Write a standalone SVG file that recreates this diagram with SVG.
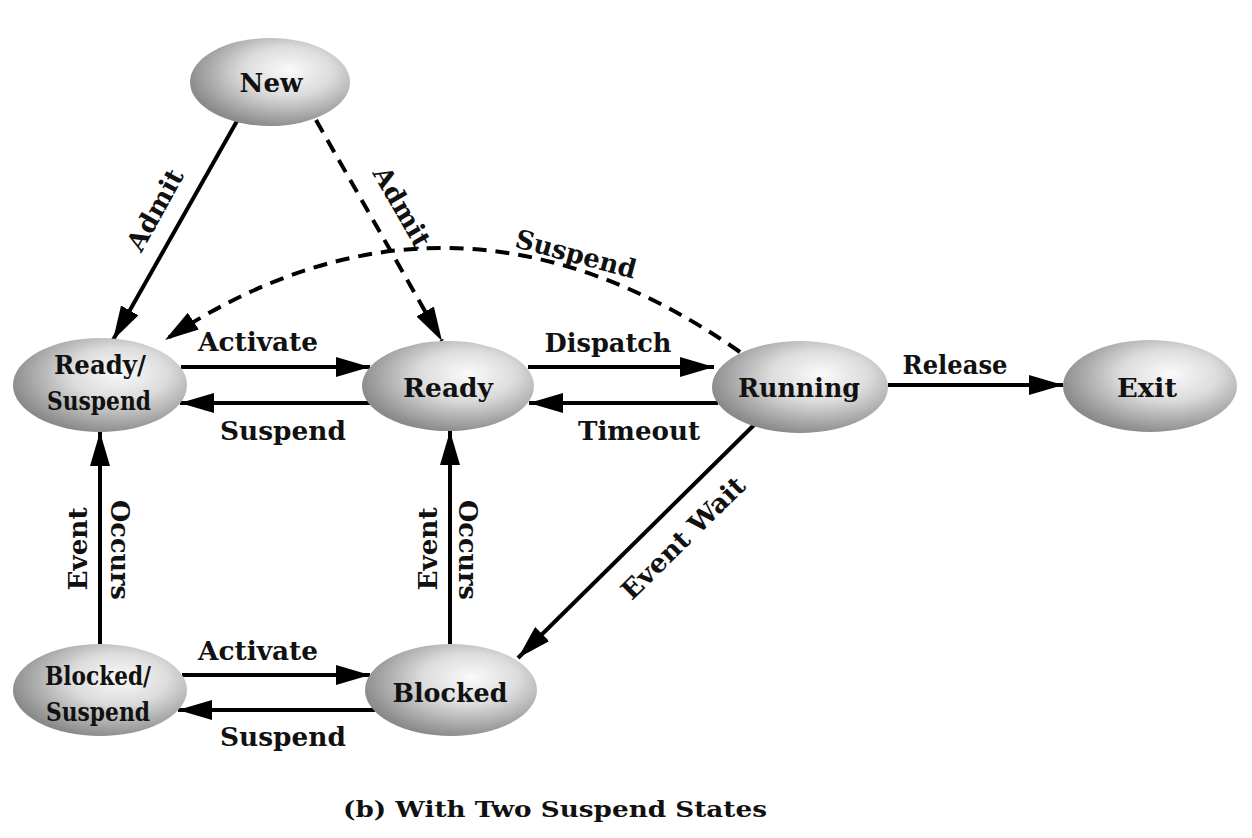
<svg xmlns="http://www.w3.org/2000/svg" width="1252" height="838" viewBox="0 0 1252 838">
<defs>
  <radialGradient id="g" cx="0.6" cy="0.4" r="0.62" fx="0.62" fy="0.36">
    <stop offset="0" stop-color="#fafafa"/>
    <stop offset="0.45" stop-color="#dcdcdc"/>
    <stop offset="1" stop-color="#8a8a8a"/>
  </radialGradient>
  <marker id="ah" markerUnits="userSpaceOnUse" markerWidth="34" markerHeight="20" refX="34" refY="10" orient="auto">
    <path d="M0,0 L34,10 L0,20 z" fill="#000"/>
  </marker>
</defs>
<style>
  .node { fill: url(#g); stroke: none; }
  .t { font-family: "DejaVu Serif", "Liberation Serif", serif; font-weight: bold; font-size: 26px; fill: #111; text-anchor: middle; }
  .cap { font-size: 23px; }
  .e { fill: none; stroke: #000; stroke-width: 4; marker-end: url(#ah); }
  .d { stroke-dasharray: 14 9; }
</style>
<rect width="1252" height="838" fill="#fff"/>

<g id="connectors">
  <line class="e" x1="237" y1="121" x2="113" y2="340"/>
  <line class="e d" x1="316" y1="120" x2="442" y2="341"/>
  <path class="e d" d="M740,352 Q450,150 165,340"/>
  <line class="e" x1="181" y1="367" x2="370" y2="367"/>
  <line class="e" x1="370" y1="403" x2="180" y2="403"/>
  <line class="e" x1="528" y1="367" x2="714" y2="367"/>
  <line class="e" x1="718" y1="403" x2="529" y2="403"/>
  <line class="e" x1="888" y1="385" x2="1063" y2="385"/>
  <line class="e" x1="755" y1="424" x2="518" y2="658"/>
  <line class="e" x1="100" y1="644" x2="100" y2="432"/>
  <line class="e" x1="450" y1="644" x2="450" y2="431"/>
  <line class="e" x1="182" y1="675" x2="370" y2="675"/>
  <line class="e" x1="375" y1="710" x2="178" y2="710"/>

  <text class="t" transform="translate(155,210) rotate(-61)" y="9" textLength="89" lengthAdjust="spacingAndGlyphs">Admit</text>
  <text class="t" transform="translate(402,207) rotate(60)" y="9" textLength="89" lengthAdjust="spacingAndGlyphs">Admit</text>
  <text class="t" transform="translate(576,254) rotate(15)" y="9" textLength="124" lengthAdjust="spacingAndGlyphs">Suspend</text>
  <text class="t" x="258" y="351" textLength="120" lengthAdjust="spacingAndGlyphs">Activate</text>
  <text class="t" x="283" y="440" textLength="126" lengthAdjust="spacingAndGlyphs">Suspend</text>
  <text class="t" x="608" y="352" textLength="127" lengthAdjust="spacingAndGlyphs">Dispatch</text>
  <text class="t" x="639" y="440" textLength="122" lengthAdjust="spacingAndGlyphs">Timeout</text>
  <text class="t" x="955" y="374" textLength="105" lengthAdjust="spacingAndGlyphs">Release</text>
  <text class="t" transform="translate(683,538) rotate(-44.6)" y="9" textLength="162" lengthAdjust="spacingAndGlyphs">Event Wait</text>
  <text class="t" transform="translate(78,549) rotate(-90)" y="9" textLength="83" lengthAdjust="spacingAndGlyphs">Event</text>
  <text class="t" transform="translate(120,550) rotate(90)" y="9" textLength="100" lengthAdjust="spacingAndGlyphs">Occurs</text>
  <text class="t" transform="translate(428,549) rotate(-90)" y="9" textLength="83" lengthAdjust="spacingAndGlyphs">Event</text>
  <text class="t" transform="translate(468,550) rotate(90)" y="9" textLength="100" lengthAdjust="spacingAndGlyphs">Occurs</text>
  <text class="t" x="258" y="660" textLength="120" lengthAdjust="spacingAndGlyphs">Activate</text>
  <text class="t" x="283" y="746" textLength="126" lengthAdjust="spacingAndGlyphs">Suspend</text>
</g>

<g id="new">
  <ellipse class="node" cx="270" cy="82" rx="80" ry="44"/>
  <text class="t" x="271" y="92" textLength="63" lengthAdjust="spacingAndGlyphs">New</text>
</g>
<g id="ready-suspend">
  <ellipse class="node" cx="100" cy="385" rx="87" ry="47"/>
  <text class="t" x="100" y="374" textLength="92" lengthAdjust="spacingAndGlyphs">Ready/</text>
  <text class="t" x="99" y="410" textLength="104" lengthAdjust="spacingAndGlyphs">Suspend</text>
</g>
<g id="ready">
  <ellipse class="node" cx="448" cy="386" rx="86" ry="45"/>
  <text class="t" x="448" y="397" textLength="90" lengthAdjust="spacingAndGlyphs">Ready</text>
</g>
<g id="running">
  <ellipse class="node" cx="800" cy="387" rx="88" ry="46"/>
  <text class="t" x="799" y="397" textLength="122" lengthAdjust="spacingAndGlyphs">Running</text>
</g>
<g id="exit">
  <ellipse class="node" cx="1150" cy="386" rx="87" ry="46"/>
  <text class="t" x="1147" y="397" textLength="60" lengthAdjust="spacingAndGlyphs">Exit</text>
</g>
<g id="blocked-suspend">
  <ellipse class="node" cx="100" cy="690" rx="87" ry="46"/>
  <text class="t" x="98" y="685" textLength="106" lengthAdjust="spacingAndGlyphs">Blocked/</text>
  <text class="t" x="98" y="721" textLength="104" lengthAdjust="spacingAndGlyphs">Suspend</text>
</g>
<g id="blocked">
  <ellipse class="node" cx="451" cy="690" rx="86" ry="46"/>
  <text class="t" x="450" y="702" textLength="115" lengthAdjust="spacingAndGlyphs">Blocked</text>
</g>

<text class="t cap" x="555" y="817" textLength="424" lengthAdjust="spacingAndGlyphs">(b) With Two Suspend States</text>
</svg>
